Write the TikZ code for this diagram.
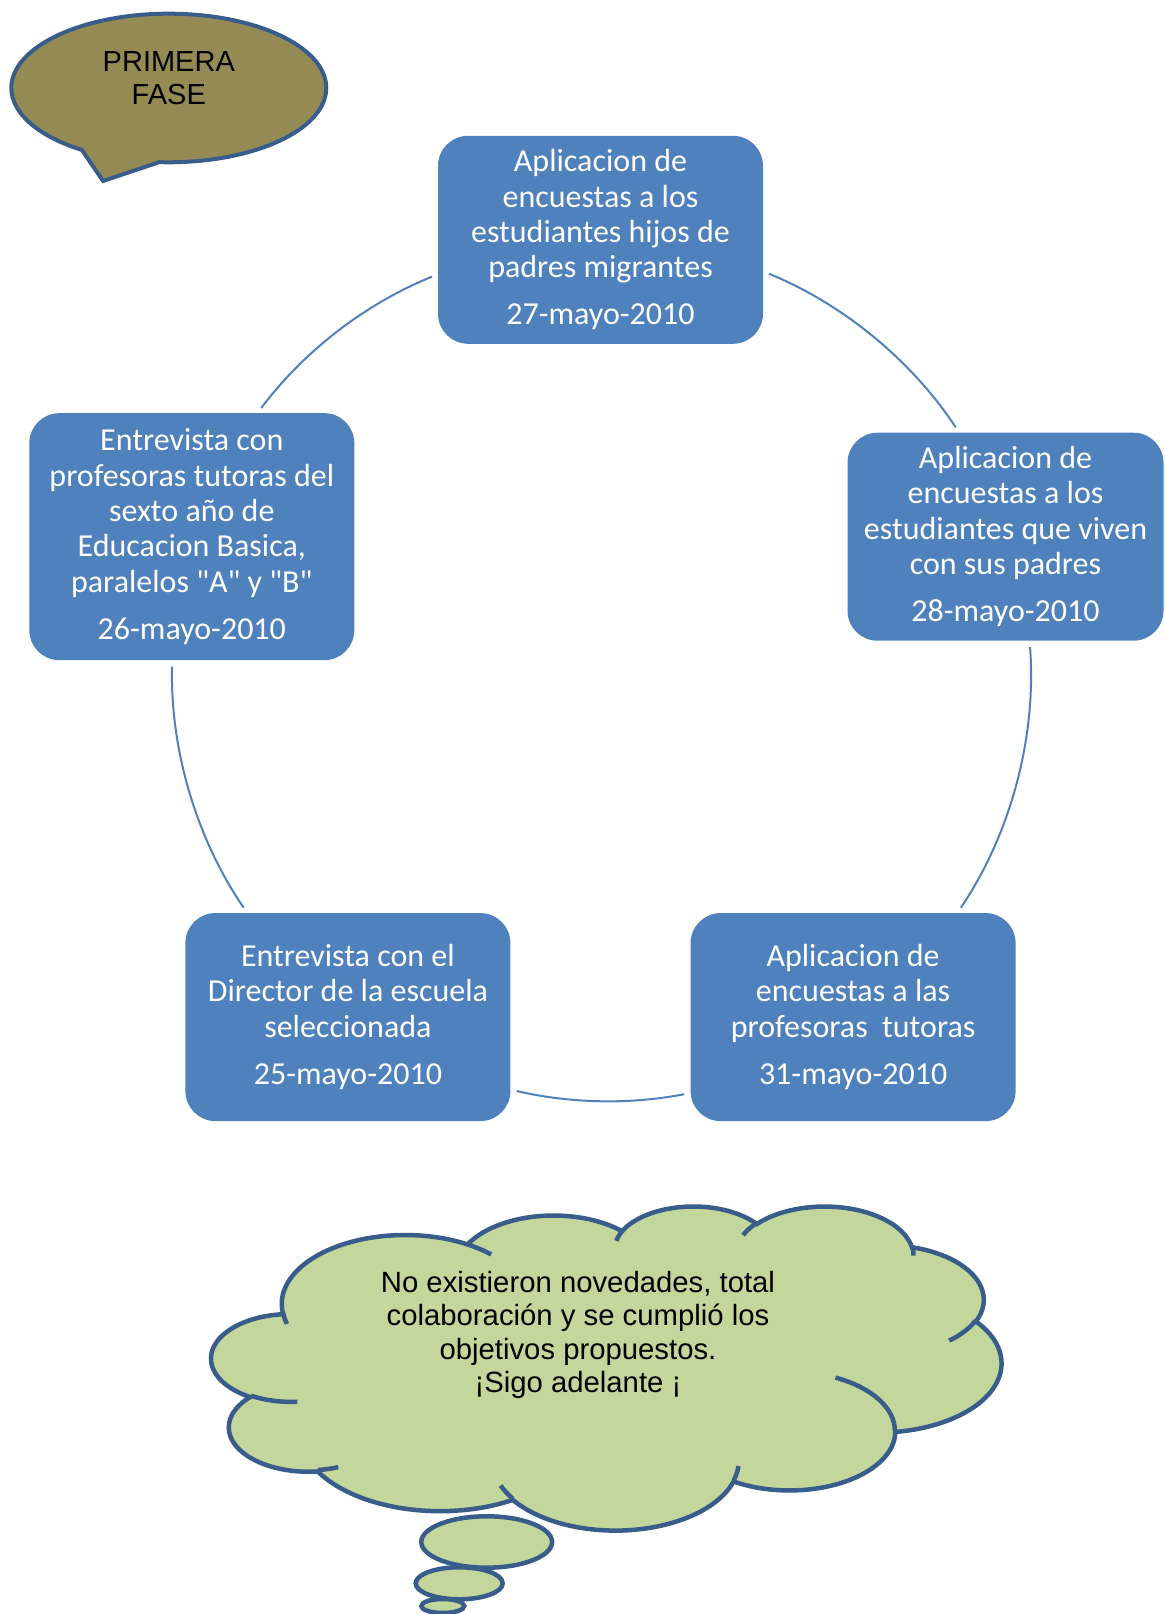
\documentclass[tikz,border=0pt]{standalone}
\usepackage{fontspec}
\setmainfont{Carlito}[Ligatures=TeXOff]
\newfontfamily\arialfont{Liberation Sans}
\usetikzlibrary{calc,shapes.callouts}

\definecolor{boxblue}{HTML}{4F81BD}
\definecolor{edgeblue}{HTML}{385D8A}
\definecolor{olivefill}{HTML}{948A54}
\definecolor{cloudfill}{HTML}{C3D69B}

\begin{document}
\begin{tikzpicture}[
  x=0.5pt, y=0.5pt,
  box/.style={fill=boxblue, rounded corners=15pt, text=white, align=center,
              minimum width=162.5pt, minimum height=104pt, inner sep=2pt,
              font=\fontsize{16}{17.65}\selectfont},
  conn/.style={draw=boxblue, line width=1pt, shorten <=3pt, shorten >=3pt, looseness=0.87},
  lineblue/.style={draw=edgeblue, line width=2.25pt},
  puff/.style n args={4}{insert path={
    let \n1={atan2((#1)*sin(#3),(#2)*cos(#3))},
        \n2={atan2((#1)*sin((#3)+(#4)),(#2)*cos((#3)+(#4)))}
    in arc[start angle=\n1, delta angle={mod(\n2-\n1+720,360)},
           x radius=#1, y radius=#2]}}
]
\useasboundingbox (0,0) rectangle (1165,1614);
% ---------------- phase callout
\node[ellipse callout, draw=edgeblue, line width=2pt, fill=olivefill,
      minimum width=157.5pt, minimum height=74.3pt, callout pointer arc=30,
      callout absolute pointer={(103,1433)}, text depth=10.3pt, align=center,
      font=\arialfont\fontsize{14.5}{16.5}\selectfont] (fase) at (168.8,1526)
  {PRIMERA\\ FASE};
% ---------------- cycle boxes
\node[box] (t) at (600.5,1374.2)
  {Aplicacion de\\ encuestas a los\\ estudiantes hijos de\\ padres migrantes\\[6pt] 27-mayo-2010};
\node[box, minimum width=158pt] (r) at (1005.5,1077.3)
  {Aplicacion de\\ encuestas a los\\ estudiantes que viven\\ con sus padres\\[6pt] 28-mayo-2010};
\node[box] (br) at (853.1,596.9)
  {Aplicacion de\\ encuestas a las\\ profesoras~ tutoras\\[6pt] 31-mayo-2010};
\node[box] (bl) at (347.9,596.9)
  {Entrevista con el\\ Director de la escuela\\ seleccionada\\[6pt] 25-mayo-2010};
\node[box, minimum height=123.5pt] (l) at (191.8,1077.3)
  {Entrevista con\\ profesoras tutoras del\\ sexto año de\\ Educacion Basica,\\ paralelos "A" y "B"\\[6pt] 26-mayo-2010};
\foreach \a/\p/\b/\q/\s in {t/-11.11/r/114.04/17.17, r/-77.16/br/45.72/19.19,
    br/-155.95/bl/-24.05/12.10, bl/134.28/l/-99.62/17.89, l/62.69/t/-168.89/15.59}
  \draw[conn] (\a.\p) to[bend left=\s] (\b.\q);
% ---------------- cloud
\begin{scope}[shift={(211.6,408.55)}, xscale=1.8278, yscale=-0.7499]
\filldraw[lineblue, fill=cloudfill] (39,143.7)
  [puff={67.53}{91.90}{-190.4875}{123.7805}]
  [puff={53.33}{72.67}{-144.1024}{89.9452}]
  [puff={43.65}{59.45}{-145.8079}{99.7230}]
  [puff={48.57}{65.95}{-130.9861}{117.2417}]
  [puff={53.33}{72.73}{-78.7089}{109.0269}]
  [puff={67.75}{92.20}{-46.2673}{130.2690}]
  [puff={57.85}{78.67}{0.6250}{114.0333}]
  [puff={67.52}{92.15}{22.4516}{115.1726}]
  [puff={77.20}{105.43}{66.2426}{75.7110}]
  [puff={43.60}{59.18}{-274.9421}{146.7356}]
  [puff={43.45}{59.45}{-246.8285}{152.5189}] -- cycle;
\draw[lineblue]
  (46.93,261.77) [puff={43.45}{59.45}{86.742}{26.4295}]
  (69.28,348.99) [puff={43.60}{59.18}{73.6105}{11.4475}]
  (164.78,390.90) [puff={67.52}{92.15}{137.6242}{14.0811}]
  (288.27,347.51) [puff={67.52}{92.15}{6.4533}{15.9984}]
  (341.29,229.54) [puff={57.85}{78.67}{-70.2924}{70.9174}]
  (417.98,153.54) [puff={53.33}{72.73}{30.3180}{27.7515}]
  (383.24,54.26) [puff={48.57}{65.95}{-13.7443}{14.8589}]
  (290.78,39.52) [puff={48.57}{65.95}{-149.1815}{18.1954}]
  (221.41,47.20) [puff={43.65}{59.45}{-163.4943}{17.6864}]
  (140.00,51.92) [puff={67.53}{91.90}{-66.7070}{12.3194}]
  (41.27,157.89) [puff={67.53}{91.90}{158.2286}{11.8557}];
\end{scope}
\foreach \bx/\by/\rx/\ry in {486.7/72/65.4/25.7, 459.2/30.7/43.5/16, 442.8/8/21.5/7}
  \filldraw[lineblue, fill=cloudfill] (\bx,\by) ellipse [x radius=\rx, y radius=\ry];
\node[align=center, font=\arialfont\fontsize{14.65}{16.8}\selectfont] (nota) at (578,279)
  {No existieron novedades, total\\ colaboración y se cumplió los\\ objetivos propuestos.\\ ¡Sigo adelante ¡};
\end{tikzpicture}
\end{document}
